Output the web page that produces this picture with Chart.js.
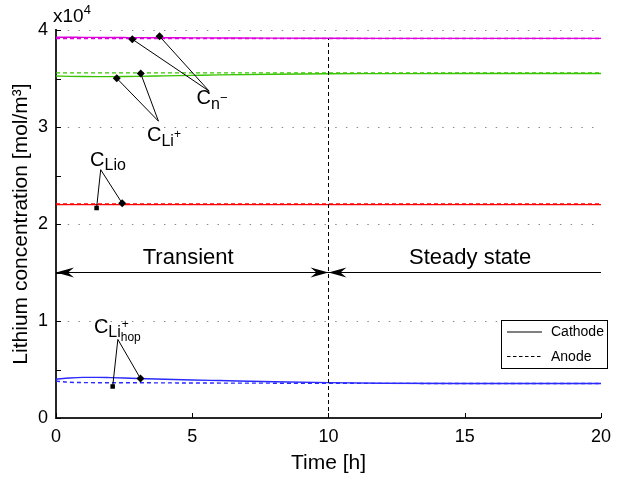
<!DOCTYPE html>
<html>
<head>
<meta charset="utf-8">
<script src="https://cdn.jsdelivr.net/npm/chart.js@4.4.0/dist/chart.umd.min.js"></script>
<style>
  html, body { margin: 0; padding: 0; background: #fff; }
  #chart { display: block; }
</style>
</head>
<body>
<canvas id="chart" width="619" height="479"></canvas>
<script>
// time axis [h]
const time = [0, 0.5, 1, 1.5, 2, 2.5, 3, 4, 5, 6, 8, 10, 12, 15, 20];

// concentrations [mol/m3], solid = cathode, dashed = anode
const cathodeAnion = [39250, 39250, 39240, 39240, 39230, 39220, 39210, 39200, 39190, 39180, 39160, 39150, 39140, 39140, 39140];
const anodeAnion   = [39120, 39120, 39120, 39120, 39120, 39120, 39120, 39120, 39120, 39120, 39120, 39120, 39120, 39120, 39120];
const cathodeLi    = [35260, 35220, 35200, 35190, 35190, 35200, 35220, 35270, 35320, 35370, 35440, 35490, 35500, 35510, 35510];
const anodeLi      = [35580, 35580, 35580, 35580, 35580, 35580, 35580, 35580, 35580, 35580, 35580, 35580, 35580, 35580, 35580];
const cathodeLio   = [22000, 22000, 22000, 22000, 22000, 22000, 22000, 22000, 22000, 22000, 22000, 22000, 22000, 22000, 22000];
const anodeLio     = [22070, 22070, 22070, 22070, 22070, 22070, 22070, 22070, 22070, 22070, 22070, 22070, 22070, 22070, 22070];
const cathodeHop   = [3990, 4130, 4190, 4190, 4160, 4120, 4070, 3990, 3920, 3860, 3740, 3650, 3590, 3560, 3550];
const anodeHop     = [3800, 3680, 3650, 3640, 3640, 3630, 3630, 3620, 3610, 3600, 3590, 3580, 3570, 3560, 3560];

const xTicks = [0, 5, 10, 15, 20];
const yTicks = [0, 1, 2, 3, 4];   // x10^4
const phaseSplit = 10;            // h, transient -> steady state
const phaseLevel = 15000;
const phases = ["Transient", "Steady state"];
const legendNames = ["Cathode", "Anode"];

// callout labels: text position, hub of leader lines, marked points (d = diamond, s = square)
const callouts = [
  { kind: "n", at: [5.16, 32400], hub: [5.62, 33700], pts: [[2.8, 39050, "d"], [3.8, 39350, "d"]] },
  { kind: "li", at: [3.34, 28600], hub: [3.76, 30600], pts: [[2.23, 35020, "d"], [3.11, 35510, "d"]] },
  { kind: "lio", at: [1.25, 25960], hub: [1.64, 25600], pts: [[1.49, 21650, "s"], [2.43, 22130, "d"]] },
  { kind: "hop", at: [1.39, 8800], hub: [2.27, 8100], pts: [[2.08, 3250, "s"], [3.1, 4070, "d"]] }
];

const FONT = "'Liberation Sans', Arial, Helvetica, sans-serif";
const series = (arr) => time.map((t, i) => ({ x: t, y: arr[i] }));

function lineSet(arr, color, dashed) {
  return {
    data: series(arr),
    borderColor: color,
    borderWidth: 1.4,
    borderDash: dashed ? [4, 3] : [],
    pointRadius: 0,
    showLine: true,
    cubicInterpolationMode: "monotone",
    order: 2
  };
}

const markerSets = ["d", "s"].map(shape => ({
  data: callouts.flatMap(c => c.pts.filter(p => p[2] === shape).map(p => ({ x: p[0], y: p[1] }))),
  pointStyle: shape === "d" ? "rectRot" : "rect",
  pointRadius: shape === "d" ? 4 : 3.2,
  pointBackgroundColor: "#000",
  pointBorderColor: "#000",
  pointBorderWidth: 0,
  showLine: false,
  order: 0
}));

function arrowHead(ctx, x, y, dir) {
  // stealth style arrow head pointing in dir (+1 right, -1 left)
  ctx.beginPath();
  ctx.moveTo(x, y);
  ctx.lineTo(x - dir * 18, y - 5);
  ctx.lineTo(x - dir * 12, y);
  ctx.lineTo(x - dir * 18, y + 5);
  ctx.closePath();
  ctx.fill();
}

function drawCallText(ctx, kind, x, y) {
  ctx.textBaseline = "alphabetic";
  ctx.textAlign = "left";
  ctx.font = "20px " + FONT;
  ctx.fillText("C", x, y);
  let cx = x + ctx.measureText("C").width;
  if (kind === "n") {
    ctx.font = "16px " + FONT;
    ctx.fillText("n", cx, y + 5);
    cx += ctx.measureText("n").width;
    ctx.font = "13px " + FONT;
    ctx.fillText("\u2212", cx, y - 2);
  } else if (kind === "li") {
    ctx.font = "16px " + FONT;
    ctx.fillText("Li", cx, y + 5);
    cx += ctx.measureText("Li").width;
    ctx.font = "12px " + FONT;
    ctx.fillText("+", cx, y - 3);
  } else if (kind === "lio") {
    ctx.font = "16px " + FONT;
    ctx.fillText("Lio", cx, y + 4);
  } else {
    ctx.font = "16px " + FONT;
    ctx.fillText("Li", cx, y + 4);
    cx += ctx.measureText("Li").width;
    ctx.font = "12px " + FONT;
    ctx.fillText("+", cx + 1, y - 5);
    ctx.fillText("hop", cx, y + 8);
  }
}

const decorations = {
  id: "decorations",
  afterDatasetsDraw(chart) {
    const { ctx, chartArea: a, scales: { x, y } } = chart;
    ctx.save();
    ctx.strokeStyle = "#000";
    ctx.fillStyle = "#000";

    // inward ticks
    ctx.lineWidth = 1;
    for (let v = 0; v <= 40000; v += 5000) {
      const py = Math.round(y.getPixelForValue(v)) + 0.5;
      ctx.beginPath(); ctx.moveTo(a.left, py); ctx.lineTo(a.left + 5, py); ctx.stroke();
    }
    xTicks.forEach(v => {
      const px = Math.round(x.getPixelForValue(v)) + 0.5;
      ctx.beginPath(); ctx.moveTo(px, a.bottom); ctx.lineTo(px, a.bottom - 5); ctx.stroke();
    });

    // phase arrows
    const py = y.getPixelForValue(phaseLevel);
    const x0 = x.getPixelForValue(x.min), xs = x.getPixelForValue(phaseSplit), x1 = x.getPixelForValue(x.max);
    ctx.lineWidth = 1.2;
    ctx.beginPath(); ctx.moveTo(x0, py); ctx.lineTo(x1, py); ctx.stroke();
    arrowHead(ctx, x0, py, -1);
    arrowHead(ctx, xs, py, 1);
    arrowHead(ctx, xs, py, -1);
    ctx.font = "22px " + FONT;
    ctx.textAlign = "center";
    ctx.textBaseline = "alphabetic";
    ctx.fillText(phases[0], x.getPixelForValue(4.85), py - 9);
    ctx.fillText(phases[1], x.getPixelForValue(15.2), py - 9);

    // callouts
    ctx.lineWidth = 1;
    callouts.forEach(c => {
      const hx = x.getPixelForValue(c.hub[0]), hy = y.getPixelForValue(c.hub[1]);
      c.pts.forEach(p => {
        ctx.beginPath();
        ctx.moveTo(hx, hy);
        ctx.lineTo(x.getPixelForValue(p[0]), y.getPixelForValue(p[1]));
        ctx.stroke();
      });
      drawCallText(ctx, c.kind, x.getPixelForValue(c.at[0]), y.getPixelForValue(c.at[1]));
    });

    // exponent label
    ctx.textAlign = "left";
    ctx.font = "19px " + FONT;
    ctx.fillText("x10", a.left - 3, a.top - 8);
    const ew = ctx.measureText("x10").width;
    ctx.font = "13px " + FONT;
    ctx.fillText("4", a.left - 3 + ew, a.top - 16);

    // legend box
    const bx = a.right - 100, by = a.bottom - 98, bw = 106, bh = 48;
    ctx.fillStyle = "#fff";
    ctx.fillRect(bx, by, bw, bh);
    ctx.lineWidth = 1;
    ctx.strokeRect(Math.round(bx) + 0.5, Math.round(by) + 0.5, bw, bh);
    ctx.fillStyle = "#000";
    ctx.font = "14px " + FONT;
    legendNames.forEach((name, i) => {
      const ly = by + 12 + i * 24.5;
      ctx.setLineDash(i === 0 ? [] : [3.5, 2.5]);
      ctx.beginPath(); ctx.moveTo(bx + 6, ly); ctx.lineTo(bx + 41, ly); ctx.stroke();
      ctx.setLineDash([]);
      ctx.textBaseline = "middle";
      ctx.fillText(name, bx + 50, ly + 0.5);
    });
    ctx.restore();
  }
};

new Chart(document.getElementById("chart").getContext("2d"), {
  type: "scatter",
  data: {
    datasets: [
      lineSet(cathodeAnion, "#dd00dd", false),
      lineSet(anodeAnion, "#dd00dd", true),
      lineSet(cathodeLi, "#38c400", false),
      lineSet(anodeLi, "#38c400", true),
      lineSet(cathodeLio, "#ff0000", false),
      lineSet(anodeLio, "#ff0000", true),
      lineSet(cathodeHop, "#2a2aff", false),
      lineSet(anodeHop, "#2a2aff", true),
      {
        data: [{ x: phaseSplit, y: 0 }, { x: phaseSplit, y: 39100 }],
        borderColor: "#000",
        borderWidth: 1,
        borderDash: [4, 3],
        pointRadius: 0,
        showLine: true,
        order: 1
      },
      ...markerSets
    ]
  },
  options: {
    responsive: false,
    animation: false,
    devicePixelRatio: 1,
    layout: { padding: { left: 0, right: 15, top: 30, bottom: 0 } },
    plugins: { legend: { display: false }, tooltip: { enabled: false } },
    scales: {
      x: {
        type: "linear",
        min: 0,
        max: 20,
        afterFit: s => { s.height = 61; },
        afterBuildTicks: s => { s.ticks = xTicks.map(v => ({ value: v })); },
        ticks: { color: "#000", font: { size: 18, family: FONT }, padding: 8, maxRotation: 0 },
        grid: { display: false, drawTicks: false },
        border: { display: true, color: "#262626", width: 2 },
        title: { display: true, text: "Time [h]", color: "#000", font: { size: 21, family: FONT }, padding: { top: 0, bottom: 3 } }
      },
      y: {
        min: 0,
        max: 40000,
        afterFit: s => { s.width = 56; },
        afterBuildTicks: s => { s.ticks = yTicks.map(v => ({ value: v * 10000 })); },
        ticks: { color: "#000", font: { size: 18, family: FONT }, padding: 8, callback: v => String(v / 10000) },
        grid: {
          drawTicks: false,
          color: c => (c.tick && c.tick.value > 0 ? "#8a8a8a" : "rgba(0,0,0,0)"),
          lineWidth: 1
        },
        border: { display: true, color: "#262626", width: 2, dash: [1.5, 9.2] },
        title: { display: true, text: "Lithium concentration [mol/m\u00b3]", color: "#000", font: { size: 21, family: FONT }, padding: { top: 9, bottom: 0 } }
      }
    }
  },
  plugins: [decorations]
});
</script>
</body>
</html>
